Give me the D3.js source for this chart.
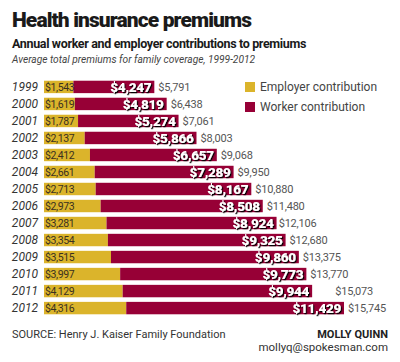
<!DOCTYPE html>
<html>
<head>
<meta charset="utf-8">
<script src="https://cdn.jsdelivr.net/npm/d3@7"></script>
<style>
  body { margin: 0; background: #fff; }
  text { font-family: Roboto, "Noto Sans", sans-serif; }
</style>
</head>
<body>
<script>
"use strict";

// data
var years = ["1999","2000","2001","2002","2003","2004","2005","2006","2007","2008","2009","2010","2011","2012"];
var employer = [1543,1619,1787,2137,2412,2661,2713,2973,3281,3354,3515,3997,4129,4316];
var worker = [4247,4819,5274,5866,6657,7289,8167,8508,8924,9325,9860,9773,9944,11429];
var totals = [5791,6438,7061,8003,9068,9950,10880,11480,12106,12680,13375,13770,15073,15745];
var seriesNames = ["Employer contribution", "Worker contribution"];
var colors = ["#dbb42b", "#970036"];

var width = 400, height = 362;
var svg = d3.select("body").append("svg")
  .attr("width", width).attr("height", height);

// drop shadow for worker labels
var defs = svg.append("defs");
var f = defs.append("filter").attr("id", "shadow").attr("x", "-10%").attr("y", "-20%")
  .attr("width", "130%").attr("height", "150%");
f.append("feDropShadow").attr("dx", 1.2).attr("dy", 1.2).attr("stdDeviation", 0)
  .attr("flood-color", "#000").attr("flood-opacity", 1);

// titles
svg.append("text").attr("x", 12).attr("y", 27)
  .style("font-size", "21px").style("font-weight", "900").style("letter-spacing", "-0.9px")
  .attr("fill", "#1a1a1a").text("Health insurance premiums");
svg.append("text").attr("x", 12).attr("y", 48)
  .style("font-size", "12.5px").style("font-weight", "700").style("letter-spacing", "-0.35px")
  .attr("fill", "#1a1a1a").text("Annual worker and employer contributions to premiums");
svg.append("text").attr("x", 12).attr("y", 63)
  .style("font-size", "10.2px").style("font-style", "italic")
  .attr("fill", "#444").text("Average total premiums for family coverage, 1999-2012");

var x = d3.scaleLinear().domain([0, 15745]).range([44, 344]);
var y = d3.scaleBand().domain(years).range([78.5, 316.5]).paddingInner(0.27).paddingOuter(0.13);

var fmt = d3.format(",");

var rows = svg.append("g").selectAll("g").data(years).enter().append("g");

rows.append("rect")
  .attr("x", x(0))
  .attr("y", function(d) { return y(d); })
  .attr("width", function(d, i) { return x(employer[i]) - x(0); })
  .attr("height", y.bandwidth())
  .attr("fill", colors[0]);

rows.append("rect")
  .attr("x", function(d, i) { return x(employer[i]); })
  .attr("y", function(d) { return y(d); })
  .attr("width", function(d, i) { return x(employer[i] + worker[i]) - x(employer[i]); })
  .attr("height", y.bandwidth())
  .attr("fill", colors[1]);

// year labels
rows.append("text")
  .attr("x", 38)
  .attr("y", function(d) { return y(d) + y.bandwidth() / 2; })
  .attr("dy", "0.36em")
  .attr("text-anchor", "end")
  .style("font-size", "12px").style("font-style", "italic")
  .attr("fill", "#333")
  .text(function(d) { return d; });

// employer values
rows.append("text")
  .attr("x", x(0) + 1)
  .attr("y", function(d) { return y(d) + y.bandwidth() / 2; })
  .attr("dy", "0.36em")
  .style("font-size", "10.5px").style("letter-spacing", "-0.4px")
  .attr("fill", "#3a3020")
  .text(function(d, i) { return "$" + fmt(employer[i]); });

// worker values
rows.append("text")
  .attr("x", function(d, i) { return x(employer[i] + worker[i]) - 3; })
  .attr("y", function(d) { return y(d) + y.bandwidth() / 2; })
  .attr("dy", "0.38em")
  .attr("text-anchor", "end")
  .style("font-size", "13.5px").style("font-weight", "900").style("letter-spacing", "-0.3px")
  .attr("fill", "#fff")
  .attr("filter", "url(#shadow)")
  .text(function(d, i) { return "$" + fmt(worker[i]); });

// totals
rows.append("text")
  .attr("x", function(d, i) { return x(totals[i]) + 4; })
  .attr("y", function(d) { return y(d) + y.bandwidth() / 2; })
  .attr("dy", "0.36em")
  .style("font-size", "11px").style("letter-spacing", "-0.2px")
  .attr("fill", "#555")
  .text(function(d, i) { return "$" + fmt(totals[i]); });

// legend
var legend = svg.append("g").selectAll("g").data(seriesNames).enter().append("g")
  .attr("transform", function(d, i) { return "translate(245," + (82 + i * 20) + ")"; });
legend.append("rect").attr("width", 10).attr("height", 10)
  .attr("fill", function(d, i) { return colors[i]; });
legend.append("text").attr("x", 15).attr("y", 5).attr("dy", "0.36em")
  .style("font-size", "12px").attr("fill", "#444")
  .text(function(d) { return d; });

// footer
svg.append("text").attr("x", 12).attr("y", 338)
  .style("font-size", "11px").attr("fill", "#333")
  .text("SOURCE: Henry J. Kaiser Family Foundation");
svg.append("text").attr("x", 388).attr("y", 338).attr("text-anchor", "end")
  .style("font-size", "11px").style("font-weight", "700").attr("fill", "#222")
  .text("MOLLY QUINN");
svg.append("text").attr("x", 388).attr("y", 351).attr("text-anchor", "end")
  .style("font-size", "11.5px").attr("fill", "#333")
  .text("mollyq@spokesman.com");
</script>
</body>
</html>
